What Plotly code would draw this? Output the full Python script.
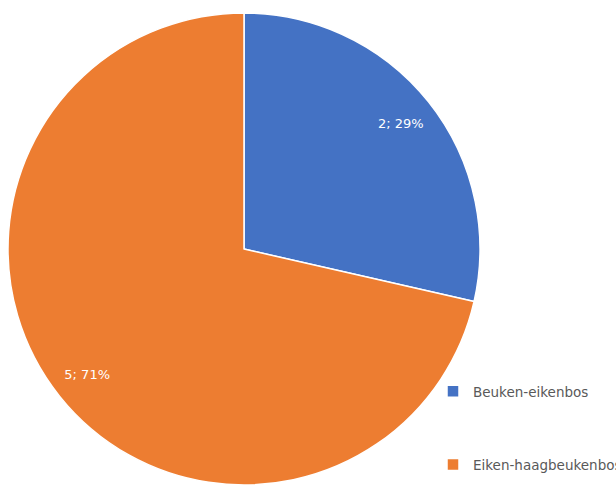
import plotly.graph_objects as go

# Forest type counts
categories = ["Beuken-eikenbos", "Eiken-haagbeukenbos"]
counts = [2, 5]
colors = ["#4472C4", "#ED7D31"]

W, H = 616, 488
cx, cy, r = 244, 249, 236  # pie centre (px from top-left) and radius

x_dom = [(cx - r) / W, (cx + r) / W]
y_dom = [(H - (cy + r)) / H, (H - (cy - r)) / H]

# Legend entries: blank trailing lines open up the gap between the two items
legend_labels = [categories[0] + "<br> " * 3, categories[1]]

fig = go.Figure()

# Main pie
fig.add_trace(go.Pie(
    labels=legend_labels,
    values=counts,
    sort=False,
    direction="clockwise",
    rotation=0,
    marker=dict(colors=colors, line=dict(color="white", width=1.5)),
    textinfo="none",
    customdata=categories,
    hovertemplate="%{customdata}: %{value} (%{percent})<extra></extra>",
    domain=dict(x=x_dom, y=y_dom),
))

# Transparent ring carrying the value labels near the outer edge
fig.add_trace(go.Pie(
    labels=categories,
    values=counts,
    sort=False,
    direction="clockwise",
    rotation=0,
    hole=0.70,
    marker=dict(colors=["rgba(0,0,0,0)"] * len(counts), line=dict(width=0)),
    texttemplate="%{value}; %{percent:.0%}",
    textposition="inside",
    insidetextorientation="horizontal",
    insidetextfont=dict(color="white", size=13, family="DejaVu Sans"),
    showlegend=False,
    hoverinfo="skip",
    domain=dict(x=x_dom, y=y_dom),
))

fig.update_layout(
    width=W,
    height=H,
    margin=dict(l=0, r=0, t=0, b=0, autoexpand=False),
    paper_bgcolor="white",
    plot_bgcolor="white",
    showlegend=True,
    legend=dict(
        x=433 / W,
        y=1 - 376 / H,
        xanchor="left",
        yanchor="top",
        valign="top",
        font=dict(family="DejaVu Sans", size=13.5, color="#595959"),
        bgcolor="rgba(0,0,0,0)",
    ),
)

fig.write_html("out.html")
